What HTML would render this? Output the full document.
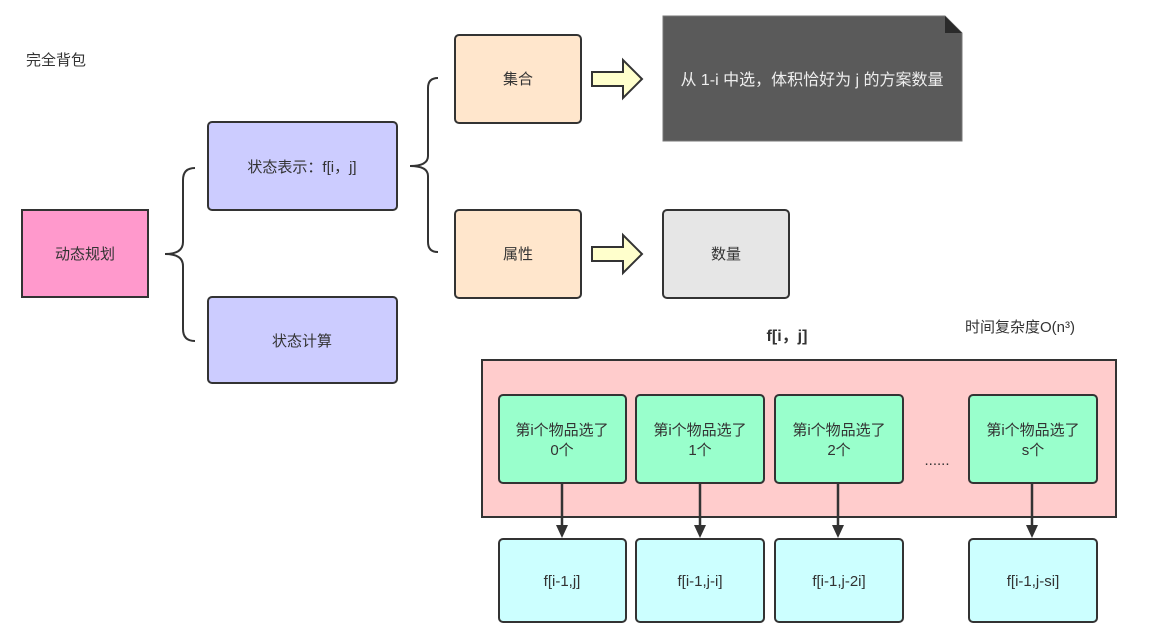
<!DOCTYPE html>
<html><head><meta charset="utf-8"><style>
html,body{margin:0;padding:0;background:#fff;}
svg{display:block;}
text{font-family:"Liberation Sans","Noto Sans CJK SC",sans-serif;font-size:15px;fill:#333;}
</style></head><body>
<svg width="1152" height="636" viewBox="0 0 1152 636" xmlns="http://www.w3.org/2000/svg">
<text x="26" y="65" font-size="14">完全背包</text>
<rect x="22" y="210" width="126" height="87" fill="#FF99CC" stroke="#333" stroke-width="2"/>
<text x="85" y="259" text-anchor="middle">动态规划</text>
<path d="M195,168 Q183,168 183,180 L183,242 Q183,254 165,254 Q183,254 183,266 L183,329 Q183,341 195,341" fill="none" stroke="#333" stroke-width="2"/>
<rect x="208" y="122" width="189" height="88" rx="4" fill="#CCCCFF" stroke="#333" stroke-width="2"/>
<text x="302" y="172" text-anchor="middle">状态表示：f[i，j]</text>
<rect x="208" y="297" width="189" height="86" rx="4" fill="#CCCCFF" stroke="#333" stroke-width="2"/>
<text x="302" y="346" text-anchor="middle">状态计算</text>
<path d="M438,78 Q428,78 428,88 L428,156 Q428,166 410,166 Q428,166 428,176 L428,242 Q428,252 438,252" fill="none" stroke="#333" stroke-width="2"/>
<rect x="455" y="35" width="126" height="88" rx="4" fill="#FFE6CC" stroke="#333" stroke-width="2"/>
<text x="518" y="84" text-anchor="middle">集合</text>
<rect x="455" y="210" width="126" height="88" rx="4" fill="#FFE6CC" stroke="#333" stroke-width="2"/>
<text x="518" y="259" text-anchor="middle">属性</text>
<path d="M592,72 L623,72 L623,60 L642,79 L623,98 L623,86 L592,86 z" fill="#FFFFCC" stroke="#333" stroke-width="2"/>
<path d="M592,247 L623,247 L623,235 L642,254 L623,273 L623,261 L592,261 z" fill="#FFFFCC" stroke="#333" stroke-width="2"/>
<path d="M663,16 L945,16 L962,33 L962,141 L663,141 z" fill="#5A5A5A" stroke="#777" stroke-width="1"/>
<path d="M945,16 L945,33 L962,33 z" fill="#2a2a2a"/>
<text x="812" y="85" text-anchor="middle" font-size="16" style="fill:#eee;font-size:16px">从 1-i 中选，体积恰好为 j 的方案数量</text>
<rect x="663" y="210" width="126" height="88" rx="4" fill="#E6E6E6" stroke="#333" stroke-width="2"/>
<text x="726" y="259" text-anchor="middle">数量</text>
<text x="787" y="341" text-anchor="middle" style="font-weight:bold;font-size:16px">f[i，j]</text>
<text x="1020" y="332" text-anchor="middle">时间复杂度O(n³)</text>
<rect x="482" y="360" width="634" height="157" fill="#FFCCCC" stroke="#333" stroke-width="2"/>
<g stroke="#333" stroke-width="2.5">
<line x1="562" y1="483" x2="562" y2="528"/>
<line x1="700" y1="483" x2="700" y2="528"/>
<line x1="838" y1="483" x2="838" y2="528"/>
<line x1="1032" y1="483" x2="1032" y2="528"/>
</g>
<g fill="#333">
<path d="M556,525 L568,525 L562,538 z"/>
<path d="M694,525 L706,525 L700,538 z"/>
<path d="M832,525 L844,525 L838,538 z"/>
<path d="M1026,525 L1038,525 L1032,538 z"/>
</g>
<g fill="#99FFCC" stroke="#333" stroke-width="2">
<rect x="499" y="395" width="127" height="88" rx="4"/>
<rect x="636" y="395" width="128" height="88" rx="4"/>
<rect x="775" y="395" width="128" height="88" rx="4"/>
<rect x="969" y="395" width="128" height="88" rx="4"/>
</g>
<g fill="#CCFFFF" stroke="#333" stroke-width="2">
<rect x="499" y="539" width="127" height="83" rx="4"/>
<rect x="636" y="539" width="128" height="83" rx="4"/>
<rect x="775" y="539" width="128" height="83" rx="4"/>
<rect x="969" y="539" width="128" height="83" rx="4"/>
</g>
<g text-anchor="middle">
<text x="562" y="435">第i个物品选了</text><text x="562" y="455">0个</text>
<text x="700" y="435">第i个物品选了</text><text x="700" y="455">1个</text>
<text x="839" y="435">第i个物品选了</text><text x="839" y="455">2个</text>
<text x="1033" y="435">第i个物品选了</text><text x="1033" y="455">s个</text>
<text x="937" y="465" font-size="13">......</text>
<text x="562" y="586">f[i-1,j]</text>
<text x="700" y="586">f[i-1,j-i]</text>
<text x="839" y="586">f[i-1,j-2i]</text>
<text x="1033" y="586">f[i-1,j-si]</text>
</g>
</svg>
</body></html>
